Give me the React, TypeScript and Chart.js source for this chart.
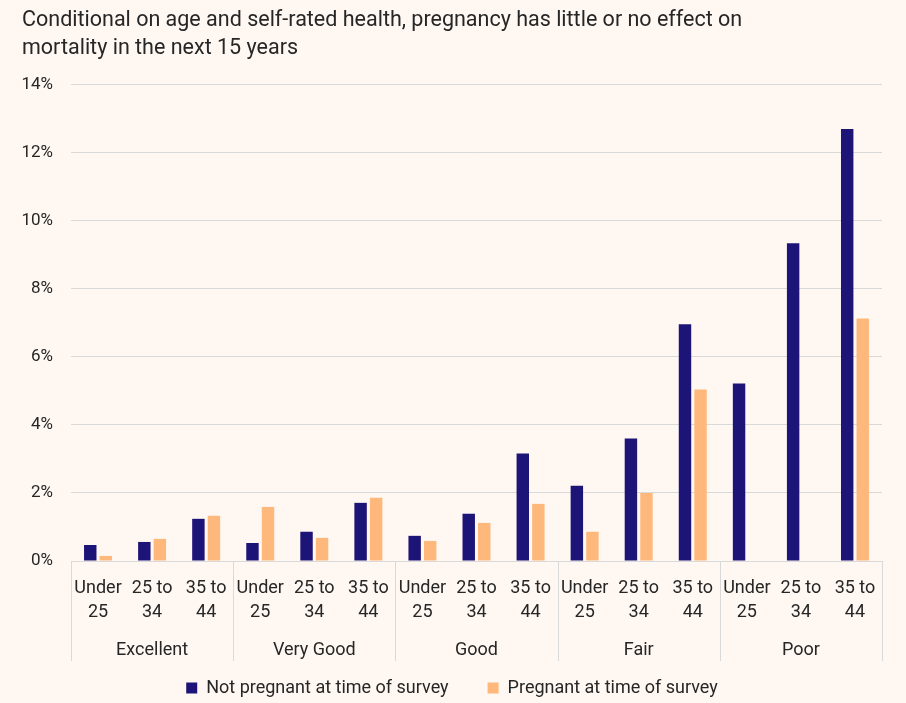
import React, { useEffect, useRef } from "react";
import { Chart, registerables } from "chart.js";

Chart.register(...registerables);

const titleLines = [
  "Conditional on age and self-rated health, pregnancy has little or no effect on",
  "mortality in the next 15 years",
];
const healthGroups = ["Excellent", "Very Good", "Good", "Fair", "Poor"];
const ageBands = [["Under", "25"], ["25 to", "34"], ["35 to", "44"]];
const notPregnant = [0.47, 0.56, 1.24, 0.53, 0.86, 1.71, 0.74, 1.39, 3.16, 2.21, 3.6, 6.96, 5.22, 9.34, 12.7];
const pregnant = [0.15, 0.65, 1.33, 1.59, 0.68, 1.86, 0.59, 1.12, 1.68, 0.86, 2.0, 5.04, null, null, 7.13];
const seriesNames = ["Not pregnant at time of survey", "Pregnant at time of survey"];

const FONT = "Roboto";
const TEXT = "#262626";
const GRID = "#D9D9D9";
const BG = "#FFF8F2";

const groupPlugin = {
  id: "groupLabels",
  afterDraw(chart: any) {
    const x = chart.scales.x;
    const ctx = chart.ctx;
    const n = ageBands.length;
    const bound = (i: number) => {
      if (i <= 0) return x.left;
      if (i >= x.ticks.length) return x.right;
      return (x.getPixelForValue(i - 1) + x.getPixelForValue(i)) / 2;
    };
    ctx.save();
    ctx.strokeStyle = GRID;
    ctx.lineWidth = 1;
    ctx.fillStyle = TEXT;
    ctx.font = `18px ${FONT}`;
    ctx.textAlign = "center";
    ctx.textBaseline = "middle";
    const top = x.top;
    const bottom = top + 100;
    for (let g = 0; g <= healthGroups.length; g++) {
      const px = Math.round(bound(g * n)) + 0.5;
      ctx.beginPath();
      ctx.moveTo(px, top);
      ctx.lineTo(px, bottom);
      ctx.stroke();
    }
    healthGroups.forEach((name, g) => {
      const cx = (bound(g * n) + bound(g * n + n)) / 2;
      ctx.fillText(name, cx, top + 89);
    });
    ctx.restore();
  },
};

export default function App() {
  const ref = useRef<HTMLCanvasElement>(null);
  useEffect(() => {
    if (!ref.current) return;
    const labels: string[][] = [];
    healthGroups.forEach(() => ageBands.forEach((a) => labels.push(a)));
    const chart = new Chart(ref.current, {
      type: "bar",
      data: {
        labels,
        datasets: [
          { label: seriesNames[0], data: notPregnant, backgroundColor: "#1D1477", categoryPercentage: 0.575, barPercentage: 0.8 },
          { label: seriesNames[1], data: pregnant as any, backgroundColor: "#FFB87B", categoryPercentage: 0.575, barPercentage: 0.8 },
        ],
      },
      options: {
        responsive: false,
        animation: false,
        devicePixelRatio: 1,
        layout: { padding: { left: 22, right: 24, top: 0, bottom: 0 } },
        plugins: {
          title: {
            display: true,
            text: titleLines,
            align: "start",
            color: TEXT,
            font: { family: FONT, size: 21.5, weight: "normal", lineHeight: 1.3 },
            padding: { top: 7, bottom: 22 },
          },
          legend: {
            position: "bottom",
            labels: {
              boxWidth: 11,
              boxHeight: 11,
              padding: 39,
              color: TEXT,
              font: { family: FONT, size: 18 },
            },
          },
          tooltip: { enabled: false },
        },
        scales: {
          x: {
            grid: { display: false },
            border: { color: GRID },
            ticks: {
              color: TEXT,
              font: { family: FONT, size: 18, lineHeight: 1.333 },
              maxRotation: 0,
              autoSkip: false,
              padding: 8,
            },
            afterFit: (scale: any) => {
              scale.height = 79;
            },
          },
          y: {
            min: 0,
            max: 14,
            border: { display: false },
            grid: { color: GRID, drawTicks: false },
            ticks: {
              stepSize: 2,
              color: TEXT,
              font: { family: FONT, size: 17 },
              padding: 18,
              callback: (v: any) => v + "%",
            },
            afterFit: (scale: any) => {
              scale.width = 49;
            },
          },
        },
      },
      plugins: [groupPlugin],
    });
    return () => chart.destroy();
  }, []);
  return (
    <div style={{ position: "absolute", left: 0, top: 0, width: 906, height: 703, overflow: "hidden", background: BG }}>
      <canvas ref={ref} width={906} height={707} style={{ display: "block", width: 906, height: 707 }} />
    </div>
  );
}
